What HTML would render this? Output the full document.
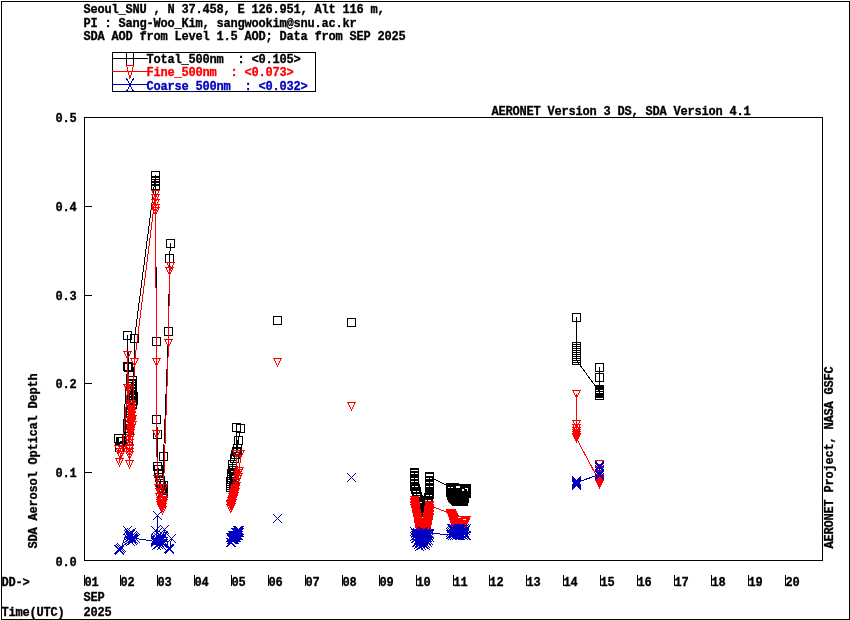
<!DOCTYPE html><html><head><meta charset="utf-8"><title>AERONET SDA</title><style>
html,body{margin:0;padding:0;background:#fff;}
svg{display:block;will-change:transform;}
text{font-family:"Liberation Mono",monospace;font-weight:bold;font-size:12px;letter-spacing:-0.2012px;}
.c{shape-rendering:crispEdges;fill:none;stroke-width:1;stroke-linecap:square;stroke-linejoin:bevel;}
</style></head><body>
<svg width="850" height="620" viewBox="0 0 850 620">
<rect x="0" y="0" width="850" height="620" fill="#fff"/>
<defs>
<path id="sq" d="M-4 -4H4V4H-4Z"/>
<path id="tr" d="M-4 -4h9v1h-9zM-3 -3h1v2h-1zM3 -3h1v2h-1zM-2 -1h1v2h-1zM2 -1h1v2h-1zM-1 1h1v2h-1zM1 1h1v2h-1zM0 3h1v2h-1z"/>
<path id="xx" d="M-4 -4L4 4M-4 4L4 -4"/>
</defs>
<g class="c" stroke="#000">
<rect x="1.5" y="1.5" width="848" height="618"/>
<rect x="84.5" y="117.5" width="738" height="443"/>
<path d="M85 206.5H91"/>
<path d="M85 295.5H91"/>
<path d="M85 383.5H91"/>
<path d="M85 472.5H91"/>
<path d="M84.5 575.5V585"/>
<path d="M120.5 575.5V585"/>
<path d="M157.5 575.5V585"/>
<path d="M194.5 575.5V585"/>
<path d="M231.5 575.5V585"/>
<path d="M268.5 575.5V585"/>
<path d="M305.5 575.5V585"/>
<path d="M342.5 575.5V585"/>
<path d="M379.5 575.5V585"/>
<path d="M416.5 575.5V585"/>
<path d="M453.5 575.5V585"/>
<path d="M489.5 575.5V585"/>
<path d="M526.5 575.5V585"/>
<path d="M563.5 575.5V585"/>
<path d="M600.5 575.5V585"/>
<path d="M637.5 575.5V585"/>
<path d="M674.5 575.5V585"/>
<path d="M711.5 575.5V585"/>
<path d="M748.5 575.5V585"/>
<path d="M785.5 575.5V585"/>
<rect x="112.5" y="52.5" width="203" height="39"/>
</g>
<g class="c" stroke="#000000">
<path d="M118.5 438.5L119.5 447.5L120.5 441.5L121.5 441.5L122.5 441.5L127.5 366.5L127.5 335.5L128.5 367.5L128.5 425.5L128.5 440.5L128.5 430.5L129.5 432.5L129.5 428.5L129.5 424.5L129.5 420.5L129.5 416.5L130.5 413.5L130.5 410.5L130.5 407.5L130.5 404.5L130.5 401.5L131.5 398.5L131.5 395.5L131.5 392.5L131.5 389.5L131.5 386.5L131.5 383.5L132.5 380.5L132.5 384.5L132.5 388.5L132.5 392.5L132.5 396.5L132.5 400.5L132.5 404.5L133.5 400.5L133.5 396.5L134.5 338.5L155.5 175.5L155.5 180.5L155.5 181.5L155.5 185.5L155.5 186.5L156.5 341.5L156.5 419.5L157.5 434.5L157.5 466.5L158.5 469.5L158.5 473.5L159.5 477.5L160.5 480.5L160.5 483.5L161.5 485.5L161.5 488.5L162.5 490.5L162.5 492.5L163.5 493.5L163.5 489.5L163.5 485.5L163.5 456.5L168.5 331.5L169.5 258.5L170.5 243.5"/>
<path d="M230.5 487.5L230.5 485.5L230.5 483.5L230.5 481.5L231.5 479.5L231.5 477.5L231.5 473.5L233.5 485.5L234.5 482.5L234.5 478.5L234.5 474.5L233.5 474.5L233.5 470.5L232.5 468.5L232.5 464.5L234.5 458.5L235.5 454.5L236.5 451.5L236.5 427.5L237.5 452.5L237.5 448.5L238.5 440.5L240.5 428.5"/>
<path d="M414.5 472.5L414.5 473.5L414.5 475.5L414.5 476.5L414.5 478.5L414.5 479.5L414.5 481.5L414.5 483.5L414.5 484.5L414.5 486.5L415.5 488.5L415.5 489.5L416.5 491.5L416.5 493.5L416.5 494.5L417.5 496.5L418.5 499.5L418.5 501.5L419.5 503.5L419.5 505.5L420.5 507.5L420.5 508.5L421.5 510.5L421.5 512.5L422.5 514.5L422.5 516.5L423.5 516.5L424.5 514.5L424.5 512.5L424.5 510.5L425.5 509.5L426.5 507.5L426.5 505.5L427.5 503.5L427.5 500.5L428.5 498.5L428.5 497.5L429.5 494.5L429.5 493.5L429.5 492.5L429.5 489.5L429.5 488.5L429.5 487.5L429.5 484.5L429.5 483.5L429.5 481.5L429.5 480.5L429.5 477.5L429.5 476.5L450.5 487.5L450.5 488.5L450.5 488.5L451.5 487.5L452.5 491.5L452.5 489.5L452.5 487.5L452.5 494.5L452.5 490.5L453.5 487.5L454.5 496.5L454.5 492.5L454.5 487.5L454.5 499.5L454.5 493.5L455.5 488.5L456.5 501.5L456.5 494.5L456.5 488.5L456.5 501.5L456.5 494.5L457.5 488.5L458.5 501.5L458.5 494.5L458.5 488.5L458.5 501.5L458.5 494.5L459.5 488.5L460.5 501.5L460.5 494.5L460.5 488.5L460.5 501.5L460.5 494.5L461.5 488.5L462.5 501.5L462.5 494.5L462.5 488.5L462.5 500.5L462.5 494.5L463.5 488.5L464.5 498.5L464.5 493.5L464.5 488.5L464.5 495.5L464.5 492.5L465.5 488.5L466.5 493.5L466.5 491.5L466.5 488.5"/>
<path d="M576.5 317.5L576.5 346.5L576.5 348.5L576.5 350.5L576.5 352.5L576.5 354.5L576.5 356.5L576.5 358.5L576.5 360.5L599.5 391.5L599.5 393.5L599.5 395.5L599.5 392.5L599.5 390.5L599.5 389.5L599.5 377.5L599.5 367.5"/>
<use href="#sq" x="118.5" y="438.5"/>
<use href="#sq" x="119.5" y="447.5"/>
<use href="#sq" x="120.5" y="441.5"/>
<use href="#sq" x="121.5" y="441.5"/>
<use href="#sq" x="122.5" y="441.5"/>
<use href="#sq" x="127.5" y="366.5"/>
<use href="#sq" x="127.5" y="335.5"/>
<use href="#sq" x="128.5" y="367.5"/>
<use href="#sq" x="128.5" y="425.5"/>
<use href="#sq" x="128.5" y="440.5"/>
<use href="#sq" x="128.5" y="430.5"/>
<use href="#sq" x="129.5" y="432.5"/>
<use href="#sq" x="129.5" y="428.5"/>
<use href="#sq" x="129.5" y="424.5"/>
<use href="#sq" x="129.5" y="420.5"/>
<use href="#sq" x="129.5" y="416.5"/>
<use href="#sq" x="130.5" y="413.5"/>
<use href="#sq" x="130.5" y="410.5"/>
<use href="#sq" x="130.5" y="407.5"/>
<use href="#sq" x="130.5" y="404.5"/>
<use href="#sq" x="130.5" y="401.5"/>
<use href="#sq" x="131.5" y="398.5"/>
<use href="#sq" x="131.5" y="395.5"/>
<use href="#sq" x="131.5" y="392.5"/>
<use href="#sq" x="131.5" y="389.5"/>
<use href="#sq" x="131.5" y="386.5"/>
<use href="#sq" x="131.5" y="383.5"/>
<use href="#sq" x="132.5" y="380.5"/>
<use href="#sq" x="132.5" y="384.5"/>
<use href="#sq" x="132.5" y="388.5"/>
<use href="#sq" x="132.5" y="392.5"/>
<use href="#sq" x="132.5" y="396.5"/>
<use href="#sq" x="132.5" y="400.5"/>
<use href="#sq" x="132.5" y="404.5"/>
<use href="#sq" x="133.5" y="400.5"/>
<use href="#sq" x="133.5" y="396.5"/>
<use href="#sq" x="134.5" y="338.5"/>
<use href="#sq" x="155.5" y="175.5"/>
<use href="#sq" x="155.5" y="180.5"/>
<use href="#sq" x="155.5" y="181.5"/>
<use href="#sq" x="155.5" y="185.5"/>
<use href="#sq" x="155.5" y="186.5"/>
<use href="#sq" x="156.5" y="341.5"/>
<use href="#sq" x="156.5" y="419.5"/>
<use href="#sq" x="157.5" y="434.5"/>
<use href="#sq" x="157.5" y="466.5"/>
<use href="#sq" x="158.5" y="469.5"/>
<use href="#sq" x="158.5" y="473.5"/>
<use href="#sq" x="159.5" y="477.5"/>
<use href="#sq" x="160.5" y="480.5"/>
<use href="#sq" x="160.5" y="483.5"/>
<use href="#sq" x="161.5" y="485.5"/>
<use href="#sq" x="161.5" y="488.5"/>
<use href="#sq" x="162.5" y="490.5"/>
<use href="#sq" x="162.5" y="492.5"/>
<use href="#sq" x="163.5" y="493.5"/>
<use href="#sq" x="163.5" y="489.5"/>
<use href="#sq" x="163.5" y="485.5"/>
<use href="#sq" x="163.5" y="456.5"/>
<use href="#sq" x="168.5" y="331.5"/>
<use href="#sq" x="169.5" y="258.5"/>
<use href="#sq" x="170.5" y="243.5"/>
<use href="#sq" x="230.5" y="487.5"/>
<use href="#sq" x="230.5" y="485.5"/>
<use href="#sq" x="230.5" y="483.5"/>
<use href="#sq" x="230.5" y="481.5"/>
<use href="#sq" x="231.5" y="479.5"/>
<use href="#sq" x="231.5" y="477.5"/>
<use href="#sq" x="231.5" y="473.5"/>
<use href="#sq" x="233.5" y="485.5"/>
<use href="#sq" x="234.5" y="482.5"/>
<use href="#sq" x="234.5" y="478.5"/>
<use href="#sq" x="234.5" y="474.5"/>
<use href="#sq" x="233.5" y="474.5"/>
<use href="#sq" x="233.5" y="470.5"/>
<use href="#sq" x="232.5" y="468.5"/>
<use href="#sq" x="232.5" y="464.5"/>
<use href="#sq" x="234.5" y="458.5"/>
<use href="#sq" x="235.5" y="454.5"/>
<use href="#sq" x="236.5" y="451.5"/>
<use href="#sq" x="236.5" y="427.5"/>
<use href="#sq" x="237.5" y="452.5"/>
<use href="#sq" x="237.5" y="448.5"/>
<use href="#sq" x="238.5" y="440.5"/>
<use href="#sq" x="240.5" y="428.5"/>
<use href="#sq" x="277.5" y="320.5"/>
<use href="#sq" x="351.5" y="322.5"/>
<use href="#sq" x="414.5" y="472.5"/>
<use href="#sq" x="414.5" y="473.5"/>
<use href="#sq" x="414.5" y="475.5"/>
<use href="#sq" x="414.5" y="476.5"/>
<use href="#sq" x="414.5" y="478.5"/>
<use href="#sq" x="414.5" y="479.5"/>
<use href="#sq" x="414.5" y="481.5"/>
<use href="#sq" x="414.5" y="483.5"/>
<use href="#sq" x="414.5" y="484.5"/>
<use href="#sq" x="414.5" y="486.5"/>
<use href="#sq" x="415.5" y="488.5"/>
<use href="#sq" x="415.5" y="489.5"/>
<use href="#sq" x="416.5" y="491.5"/>
<use href="#sq" x="416.5" y="493.5"/>
<use href="#sq" x="416.5" y="494.5"/>
<use href="#sq" x="417.5" y="496.5"/>
<use href="#sq" x="418.5" y="499.5"/>
<use href="#sq" x="418.5" y="501.5"/>
<use href="#sq" x="419.5" y="503.5"/>
<use href="#sq" x="419.5" y="505.5"/>
<use href="#sq" x="420.5" y="507.5"/>
<use href="#sq" x="420.5" y="508.5"/>
<use href="#sq" x="421.5" y="510.5"/>
<use href="#sq" x="421.5" y="512.5"/>
<use href="#sq" x="422.5" y="514.5"/>
<use href="#sq" x="422.5" y="516.5"/>
<use href="#sq" x="423.5" y="516.5"/>
<use href="#sq" x="424.5" y="514.5"/>
<use href="#sq" x="424.5" y="512.5"/>
<use href="#sq" x="424.5" y="510.5"/>
<use href="#sq" x="425.5" y="509.5"/>
<use href="#sq" x="426.5" y="507.5"/>
<use href="#sq" x="426.5" y="505.5"/>
<use href="#sq" x="427.5" y="503.5"/>
<use href="#sq" x="427.5" y="500.5"/>
<use href="#sq" x="428.5" y="498.5"/>
<use href="#sq" x="428.5" y="497.5"/>
<use href="#sq" x="429.5" y="494.5"/>
<use href="#sq" x="429.5" y="493.5"/>
<use href="#sq" x="429.5" y="492.5"/>
<use href="#sq" x="429.5" y="489.5"/>
<use href="#sq" x="429.5" y="488.5"/>
<use href="#sq" x="429.5" y="487.5"/>
<use href="#sq" x="429.5" y="484.5"/>
<use href="#sq" x="429.5" y="483.5"/>
<use href="#sq" x="429.5" y="481.5"/>
<use href="#sq" x="429.5" y="480.5"/>
<use href="#sq" x="429.5" y="477.5"/>
<use href="#sq" x="429.5" y="476.5"/>
<use href="#sq" x="450.5" y="487.5"/>
<use href="#sq" x="450.5" y="488.5"/>
<use href="#sq" x="450.5" y="488.5"/>
<use href="#sq" x="451.5" y="487.5"/>
<use href="#sq" x="452.5" y="491.5"/>
<use href="#sq" x="452.5" y="489.5"/>
<use href="#sq" x="452.5" y="487.5"/>
<use href="#sq" x="452.5" y="494.5"/>
<use href="#sq" x="452.5" y="490.5"/>
<use href="#sq" x="453.5" y="487.5"/>
<use href="#sq" x="454.5" y="496.5"/>
<use href="#sq" x="454.5" y="492.5"/>
<use href="#sq" x="454.5" y="487.5"/>
<use href="#sq" x="454.5" y="499.5"/>
<use href="#sq" x="454.5" y="493.5"/>
<use href="#sq" x="455.5" y="488.5"/>
<use href="#sq" x="456.5" y="501.5"/>
<use href="#sq" x="456.5" y="494.5"/>
<use href="#sq" x="456.5" y="488.5"/>
<use href="#sq" x="456.5" y="501.5"/>
<use href="#sq" x="456.5" y="494.5"/>
<use href="#sq" x="457.5" y="488.5"/>
<use href="#sq" x="458.5" y="501.5"/>
<use href="#sq" x="458.5" y="494.5"/>
<use href="#sq" x="458.5" y="488.5"/>
<use href="#sq" x="458.5" y="501.5"/>
<use href="#sq" x="458.5" y="494.5"/>
<use href="#sq" x="459.5" y="488.5"/>
<use href="#sq" x="460.5" y="501.5"/>
<use href="#sq" x="460.5" y="494.5"/>
<use href="#sq" x="460.5" y="488.5"/>
<use href="#sq" x="460.5" y="501.5"/>
<use href="#sq" x="460.5" y="494.5"/>
<use href="#sq" x="461.5" y="488.5"/>
<use href="#sq" x="462.5" y="501.5"/>
<use href="#sq" x="462.5" y="494.5"/>
<use href="#sq" x="462.5" y="488.5"/>
<use href="#sq" x="462.5" y="500.5"/>
<use href="#sq" x="462.5" y="494.5"/>
<use href="#sq" x="463.5" y="488.5"/>
<use href="#sq" x="464.5" y="498.5"/>
<use href="#sq" x="464.5" y="493.5"/>
<use href="#sq" x="464.5" y="488.5"/>
<use href="#sq" x="464.5" y="495.5"/>
<use href="#sq" x="464.5" y="492.5"/>
<use href="#sq" x="465.5" y="488.5"/>
<use href="#sq" x="466.5" y="493.5"/>
<use href="#sq" x="466.5" y="491.5"/>
<use href="#sq" x="466.5" y="488.5"/>
<use href="#sq" x="576.5" y="317.5"/>
<use href="#sq" x="576.5" y="346.5"/>
<use href="#sq" x="576.5" y="348.5"/>
<use href="#sq" x="576.5" y="350.5"/>
<use href="#sq" x="576.5" y="352.5"/>
<use href="#sq" x="576.5" y="354.5"/>
<use href="#sq" x="576.5" y="356.5"/>
<use href="#sq" x="576.5" y="358.5"/>
<use href="#sq" x="576.5" y="360.5"/>
<use href="#sq" x="599.5" y="391.5"/>
<use href="#sq" x="599.5" y="393.5"/>
<use href="#sq" x="599.5" y="395.5"/>
<use href="#sq" x="599.5" y="392.5"/>
<use href="#sq" x="599.5" y="390.5"/>
<use href="#sq" x="599.5" y="389.5"/>
<use href="#sq" x="599.5" y="377.5"/>
<use href="#sq" x="599.5" y="367.5"/>
<path d="M446 483H456V484H471V497H468V506H455L450 504L448 501L446 495Z" fill="#000" stroke="none"/>
<path d="M448 487h2v1h-2zM451 487h2v1h-2zM456 486h4v2h-4zM462 489h2v2h-2zM465 488h3v1h-3zM467 489h1v2h-1z" fill="#fff" stroke="none"/>
</g>
<g class="c" stroke="#ff0000">
<path d="M118.5 449.5L119.5 462.5L120.5 455.5L121.5 452.5L122.5 450.5L127.5 388.5L127.5 355.5L128.5 390.5L129.5 448.5L129.5 464.5L129.5 455.5L129.5 455.5L129.5 452.5L129.5 449.5L129.5 443.5L129.5 440.5L130.5 438.5L130.5 433.5L130.5 431.5L130.5 429.5L130.5 424.5L131.5 422.5L131.5 420.5L131.5 415.5L131.5 413.5L131.5 411.5L131.5 406.5L131.5 404.5L131.5 409.5L131.5 411.5L131.5 416.5L131.5 421.5L131.5 423.5L131.5 428.5L132.5 425.5L132.5 419.5L134.5 362.5L155.5 194.5L155.5 198.5L155.5 203.5L155.5 208.5L155.5 211.5L156.5 362.5L156.5 434.5L157.5 479.5L158.5 488.5L159.5 497.5L160.5 501.5L160.5 503.5L160.5 505.5L161.5 504.5L161.5 506.5L161.5 508.5L162.5 510.5L162.5 507.5L162.5 504.5L163.5 503.5L163.5 500.5L162.5 501.5L163.5 497.5L159.5 492.5L163.5 488.5L168.5 343.5L169.5 271.5L170.5 266.5"/>
<path d="M230.5 504.5L230.5 508.5L230.5 505.5L231.5 503.5L231.5 507.5L231.5 504.5L231.5 501.5L232.5 499.5L232.5 503.5L232.5 500.5L232.5 497.5L232.5 501.5L233.5 499.5L233.5 496.5L233.5 493.5L233.5 497.5L233.5 494.5L234.5 492.5L234.5 496.5L234.5 493.5L234.5 490.5L235.5 488.5L235.5 492.5L235.5 489.5L236.5 486.5L236.5 482.5L236.5 454.5L237.5 479.5L237.5 475.5L238.5 473.5L238.5 477.5L239.5 471.5L240.5 454.5"/>
<path d="M414.5 500.5L414.5 502.5L414.5 503.5L414.5 505.5L414.5 506.5L414.5 508.5L415.5 510.5L415.5 511.5L416.5 513.5L416.5 514.5L416.5 516.5L417.5 517.5L417.5 519.5L417.5 520.5L418.5 522.5L418.5 523.5L418.5 525.5L418.5 526.5L419.5 528.5L419.5 529.5L419.5 531.5L420.5 532.5L420.5 534.5L420.5 535.5L421.5 537.5L421.5 538.5L422.5 540.5L423.5 540.5L424.5 537.5L424.5 535.5L425.5 534.5L425.5 532.5L425.5 531.5L426.5 529.5L426.5 528.5L427.5 526.5L427.5 525.5L427.5 523.5L428.5 522.5L428.5 520.5L429.5 518.5L429.5 517.5L429.5 515.5L429.5 514.5L429.5 512.5L429.5 511.5L429.5 509.5L429.5 508.5L429.5 506.5L429.5 505.5L450.5 513.5L451.5 513.5L451.5 514.5L451.5 515.5L452.5 516.5L453.5 517.5L453.5 518.5L454.5 519.5L455.5 520.5L456.5 521.5L457.5 522.5L458.5 523.5L459.5 523.5L460.5 523.5L461.5 523.5L462.5 523.5L463.5 522.5L464.5 521.5L465.5 520.5L466.5 520.5L465.5 520.5L464.5 520.5L463.5 520.5L462.5 520.5L461.5 520.5L460.5 520.5L459.5 520.5L460.5 521.5L462.5 521.5L464.5 520.5L466.5 520.5"/>
<path d="M576.5 394.5L576.5 424.5L576.5 428.5L576.5 431.5L576.5 433.5L576.5 435.5L576.5 437.5L576.5 438.5L576.5 438.5L599.5 481.5L599.5 483.5L599.5 484.5L599.5 482.5L599.5 480.5L599.5 478.5L599.5 470.5L599.5 464.5"/>
</g><g shape-rendering="crispEdges" stroke="none" fill="#ff0000">
<use href="#tr" x="118" y="449"/>
<use href="#tr" x="119" y="462"/>
<use href="#tr" x="120" y="455"/>
<use href="#tr" x="121" y="452"/>
<use href="#tr" x="122" y="450"/>
<use href="#tr" x="127" y="388"/>
<use href="#tr" x="127" y="355"/>
<use href="#tr" x="128" y="390"/>
<use href="#tr" x="129" y="448"/>
<use href="#tr" x="129" y="464"/>
<use href="#tr" x="129" y="455"/>
<use href="#tr" x="129" y="455"/>
<use href="#tr" x="129" y="452"/>
<use href="#tr" x="129" y="449"/>
<use href="#tr" x="129" y="443"/>
<use href="#tr" x="129" y="440"/>
<use href="#tr" x="130" y="438"/>
<use href="#tr" x="130" y="433"/>
<use href="#tr" x="130" y="431"/>
<use href="#tr" x="130" y="429"/>
<use href="#tr" x="130" y="424"/>
<use href="#tr" x="131" y="422"/>
<use href="#tr" x="131" y="420"/>
<use href="#tr" x="131" y="415"/>
<use href="#tr" x="131" y="413"/>
<use href="#tr" x="131" y="411"/>
<use href="#tr" x="131" y="406"/>
<use href="#tr" x="131" y="404"/>
<use href="#tr" x="131" y="409"/>
<use href="#tr" x="131" y="411"/>
<use href="#tr" x="131" y="416"/>
<use href="#tr" x="131" y="421"/>
<use href="#tr" x="131" y="423"/>
<use href="#tr" x="131" y="428"/>
<use href="#tr" x="132" y="425"/>
<use href="#tr" x="132" y="419"/>
<use href="#tr" x="134" y="362"/>
<use href="#tr" x="155" y="194"/>
<use href="#tr" x="155" y="198"/>
<use href="#tr" x="155" y="203"/>
<use href="#tr" x="155" y="208"/>
<use href="#tr" x="155" y="211"/>
<use href="#tr" x="156" y="362"/>
<use href="#tr" x="156" y="434"/>
<use href="#tr" x="157" y="479"/>
<use href="#tr" x="158" y="488"/>
<use href="#tr" x="159" y="497"/>
<use href="#tr" x="160" y="501"/>
<use href="#tr" x="160" y="503"/>
<use href="#tr" x="160" y="505"/>
<use href="#tr" x="161" y="504"/>
<use href="#tr" x="161" y="506"/>
<use href="#tr" x="161" y="508"/>
<use href="#tr" x="162" y="510"/>
<use href="#tr" x="162" y="507"/>
<use href="#tr" x="162" y="504"/>
<use href="#tr" x="163" y="503"/>
<use href="#tr" x="163" y="500"/>
<use href="#tr" x="162" y="501"/>
<use href="#tr" x="163" y="497"/>
<use href="#tr" x="159" y="492"/>
<use href="#tr" x="163" y="488"/>
<use href="#tr" x="168" y="343"/>
<use href="#tr" x="169" y="271"/>
<use href="#tr" x="170" y="266"/>
<use href="#tr" x="230" y="504"/>
<use href="#tr" x="230" y="508"/>
<use href="#tr" x="230" y="505"/>
<use href="#tr" x="231" y="503"/>
<use href="#tr" x="231" y="507"/>
<use href="#tr" x="231" y="504"/>
<use href="#tr" x="231" y="501"/>
<use href="#tr" x="232" y="499"/>
<use href="#tr" x="232" y="503"/>
<use href="#tr" x="232" y="500"/>
<use href="#tr" x="232" y="497"/>
<use href="#tr" x="232" y="501"/>
<use href="#tr" x="233" y="499"/>
<use href="#tr" x="233" y="496"/>
<use href="#tr" x="233" y="493"/>
<use href="#tr" x="233" y="497"/>
<use href="#tr" x="233" y="494"/>
<use href="#tr" x="234" y="492"/>
<use href="#tr" x="234" y="496"/>
<use href="#tr" x="234" y="493"/>
<use href="#tr" x="234" y="490"/>
<use href="#tr" x="235" y="488"/>
<use href="#tr" x="235" y="492"/>
<use href="#tr" x="235" y="489"/>
<use href="#tr" x="236" y="486"/>
<use href="#tr" x="236" y="482"/>
<use href="#tr" x="236" y="454"/>
<use href="#tr" x="237" y="479"/>
<use href="#tr" x="237" y="475"/>
<use href="#tr" x="238" y="473"/>
<use href="#tr" x="238" y="477"/>
<use href="#tr" x="239" y="471"/>
<use href="#tr" x="240" y="454"/>
<use href="#tr" x="277" y="362"/>
<use href="#tr" x="351" y="406"/>
<use href="#tr" x="414" y="500"/>
<use href="#tr" x="414" y="502"/>
<use href="#tr" x="414" y="503"/>
<use href="#tr" x="414" y="505"/>
<use href="#tr" x="414" y="506"/>
<use href="#tr" x="414" y="508"/>
<use href="#tr" x="415" y="510"/>
<use href="#tr" x="415" y="511"/>
<use href="#tr" x="416" y="513"/>
<use href="#tr" x="416" y="514"/>
<use href="#tr" x="416" y="516"/>
<use href="#tr" x="417" y="517"/>
<use href="#tr" x="417" y="519"/>
<use href="#tr" x="417" y="520"/>
<use href="#tr" x="418" y="522"/>
<use href="#tr" x="418" y="523"/>
<use href="#tr" x="418" y="525"/>
<use href="#tr" x="418" y="526"/>
<use href="#tr" x="419" y="528"/>
<use href="#tr" x="419" y="529"/>
<use href="#tr" x="419" y="531"/>
<use href="#tr" x="420" y="532"/>
<use href="#tr" x="420" y="534"/>
<use href="#tr" x="420" y="535"/>
<use href="#tr" x="421" y="537"/>
<use href="#tr" x="421" y="538"/>
<use href="#tr" x="422" y="540"/>
<use href="#tr" x="423" y="540"/>
<use href="#tr" x="424" y="537"/>
<use href="#tr" x="424" y="535"/>
<use href="#tr" x="425" y="534"/>
<use href="#tr" x="425" y="532"/>
<use href="#tr" x="425" y="531"/>
<use href="#tr" x="426" y="529"/>
<use href="#tr" x="426" y="528"/>
<use href="#tr" x="427" y="526"/>
<use href="#tr" x="427" y="525"/>
<use href="#tr" x="427" y="523"/>
<use href="#tr" x="428" y="522"/>
<use href="#tr" x="428" y="520"/>
<use href="#tr" x="429" y="518"/>
<use href="#tr" x="429" y="517"/>
<use href="#tr" x="429" y="515"/>
<use href="#tr" x="429" y="514"/>
<use href="#tr" x="429" y="512"/>
<use href="#tr" x="429" y="511"/>
<use href="#tr" x="429" y="509"/>
<use href="#tr" x="429" y="508"/>
<use href="#tr" x="429" y="506"/>
<use href="#tr" x="429" y="505"/>
<use href="#tr" x="450" y="513"/>
<use href="#tr" x="451" y="513"/>
<use href="#tr" x="451" y="514"/>
<use href="#tr" x="451" y="515"/>
<use href="#tr" x="452" y="516"/>
<use href="#tr" x="453" y="517"/>
<use href="#tr" x="453" y="518"/>
<use href="#tr" x="454" y="519"/>
<use href="#tr" x="455" y="520"/>
<use href="#tr" x="456" y="521"/>
<use href="#tr" x="457" y="522"/>
<use href="#tr" x="458" y="523"/>
<use href="#tr" x="459" y="523"/>
<use href="#tr" x="460" y="523"/>
<use href="#tr" x="461" y="523"/>
<use href="#tr" x="462" y="523"/>
<use href="#tr" x="463" y="522"/>
<use href="#tr" x="464" y="521"/>
<use href="#tr" x="465" y="520"/>
<use href="#tr" x="466" y="520"/>
<use href="#tr" x="465" y="520"/>
<use href="#tr" x="464" y="520"/>
<use href="#tr" x="463" y="520"/>
<use href="#tr" x="462" y="520"/>
<use href="#tr" x="461" y="520"/>
<use href="#tr" x="460" y="520"/>
<use href="#tr" x="459" y="520"/>
<use href="#tr" x="460" y="521"/>
<use href="#tr" x="462" y="521"/>
<use href="#tr" x="464" y="520"/>
<use href="#tr" x="466" y="520"/>
<use href="#tr" x="576" y="394"/>
<use href="#tr" x="576" y="424"/>
<use href="#tr" x="576" y="428"/>
<use href="#tr" x="576" y="431"/>
<use href="#tr" x="576" y="433"/>
<use href="#tr" x="576" y="435"/>
<use href="#tr" x="576" y="437"/>
<use href="#tr" x="576" y="438"/>
<use href="#tr" x="576" y="438"/>
<use href="#tr" x="599" y="481"/>
<use href="#tr" x="599" y="483"/>
<use href="#tr" x="599" y="484"/>
<use href="#tr" x="599" y="482"/>
<use href="#tr" x="599" y="480"/>
<use href="#tr" x="599" y="478"/>
<use href="#tr" x="599" y="470"/>
<use href="#tr" x="599" y="464"/>
<path d="M411 497H419L422 521L425 503H433V518L427 546H419L411 504Z" fill="#f00" stroke="none"/>
<path d="M446 509H456L458 516H471L466 528H452Z" fill="#f00" stroke="none"/>
<path d="M458 517h3v1h-3zM463 519h3v1h-3z" fill="#fff" stroke="none"/>
</g>
<g class="c" stroke="#0000c0">
<path d="M118.5 549.5L119.5 549.5L119.5 550.5L120.5 548.5L121.5 547.5L127.5 530.5L128.5 534.5L128.5 538.5L129.5 535.5L129.5 540.5L129.5 533.5L130.5 537.5L130.5 541.5L130.5 534.5L131.5 538.5L131.5 532.5L131.5 536.5L132.5 540.5L132.5 535.5L132.5 538.5L133.5 536.5L133.5 539.5L134.5 537.5L135.5 538.5L155.5 541.5L155.5 539.5L155.5 542.5L155.5 540.5L156.5 538.5L156.5 545.5L157.5 515.5L157.5 532.5L155.5 530.5L157.5 536.5L158.5 540.5L158.5 544.5L159.5 538.5L159.5 542.5L160.5 536.5L160.5 541.5L161.5 545.5L161.5 539.5L162.5 543.5L162.5 537.5L163.5 541.5L163.5 535.5L164.5 529.5L168.5 548.5L169.5 548.5L169.5 549.5L171.5 538.5"/>
<path d="M230.5 537.5L230.5 542.5L231.5 539.5L231.5 537.5L231.5 542.5L232.5 539.5L232.5 537.5L232.5 535.5L233.5 539.5L233.5 537.5L233.5 535.5L234.5 539.5L234.5 537.5L234.5 535.5L235.5 532.5L235.5 537.5L235.5 535.5L236.5 532.5L236.5 537.5L236.5 535.5L237.5 532.5L237.5 530.5L237.5 535.5L238.5 532.5L238.5 530.5L238.5 535.5L239.5 532.5L239.5 530.5"/>
<path d="M414.5 531.5L414.5 536.5L415.5 533.5L415.5 538.5L415.5 535.5L415.5 532.5L416.5 538.5L416.5 535.5L416.5 542.5L416.5 538.5L417.5 533.5L417.5 542.5L417.5 537.5L417.5 532.5L418.5 541.5L418.5 535.5L418.5 544.5L418.5 539.5L419.5 533.5L419.5 542.5L419.5 536.5L419.5 546.5L420.5 540.5L420.5 534.5L420.5 543.5L420.5 538.5L421.5 532.5L421.5 541.5L421.5 536.5L421.5 545.5L422.5 539.5L422.5 533.5L422.5 543.5L422.5 537.5L423.5 531.5L423.5 540.5L423.5 535.5L423.5 544.5L424.5 538.5L424.5 533.5L424.5 542.5L424.5 536.5L425.5 545.5L425.5 540.5L425.5 534.5L425.5 543.5L426.5 537.5L426.5 532.5L426.5 540.5L426.5 535.5L427.5 542.5L427.5 537.5L427.5 533.5L427.5 539.5L428.5 535.5L428.5 540.5L428.5 536.5L428.5 533.5L429.5 537.5L429.5 534.5L429.5 533.5L450.5 534.5L450.5 532.5L450.5 534.5L451.5 528.5L451.5 534.5L451.5 531.5L452.5 530.5L452.5 535.5L452.5 528.5L453.5 533.5L453.5 533.5L453.5 528.5L454.5 535.5L454.5 530.5L454.5 531.5L455.5 534.5L455.5 528.5L455.5 534.5L456.5 532.5L456.5 529.5L456.5 535.5L457.5 529.5L457.5 532.5L457.5 534.5L458.5 528.5L458.5 534.5L458.5 531.5L458.5 530.5L459.5 535.5L459.5 528.5L459.5 533.5L460.5 532.5L460.5 529.5L460.5 535.5L461.5 529.5L461.5 531.5L461.5 534.5L462.5 528.5L462.5 534.5L462.5 531.5L463.5 529.5L463.5 535.5L463.5 529.5L464.5 532.5L464.5 533.5L464.5 528.5L465.5 535.5L465.5 530.5L465.5 530.5L466.5 535.5L466.5 528.5"/>
<path d="M576.5 483.5L576.5 482.5L576.5 484.5L576.5 481.5L576.5 485.5L576.5 480.5L576.5 482.5L599.5 474.5L599.5 475.5L599.5 473.5L599.5 471.5L599.5 469.5L599.5 467.5L599.5 466.5L599.5 465.5"/>
<use href="#xx" x="118.5" y="549.5"/>
<use href="#xx" x="119.5" y="549.5"/>
<use href="#xx" x="119.5" y="550.5"/>
<use href="#xx" x="120.5" y="548.5"/>
<use href="#xx" x="121.5" y="547.5"/>
<use href="#xx" x="127.5" y="530.5"/>
<use href="#xx" x="128.5" y="534.5"/>
<use href="#xx" x="128.5" y="538.5"/>
<use href="#xx" x="129.5" y="535.5"/>
<use href="#xx" x="129.5" y="540.5"/>
<use href="#xx" x="129.5" y="533.5"/>
<use href="#xx" x="130.5" y="537.5"/>
<use href="#xx" x="130.5" y="541.5"/>
<use href="#xx" x="130.5" y="534.5"/>
<use href="#xx" x="131.5" y="538.5"/>
<use href="#xx" x="131.5" y="532.5"/>
<use href="#xx" x="131.5" y="536.5"/>
<use href="#xx" x="132.5" y="540.5"/>
<use href="#xx" x="132.5" y="535.5"/>
<use href="#xx" x="132.5" y="538.5"/>
<use href="#xx" x="133.5" y="536.5"/>
<use href="#xx" x="133.5" y="539.5"/>
<use href="#xx" x="134.5" y="537.5"/>
<use href="#xx" x="135.5" y="538.5"/>
<use href="#xx" x="155.5" y="541.5"/>
<use href="#xx" x="155.5" y="539.5"/>
<use href="#xx" x="155.5" y="542.5"/>
<use href="#xx" x="155.5" y="540.5"/>
<use href="#xx" x="156.5" y="538.5"/>
<use href="#xx" x="156.5" y="545.5"/>
<use href="#xx" x="157.5" y="515.5"/>
<use href="#xx" x="157.5" y="532.5"/>
<use href="#xx" x="155.5" y="530.5"/>
<use href="#xx" x="157.5" y="536.5"/>
<use href="#xx" x="158.5" y="540.5"/>
<use href="#xx" x="158.5" y="544.5"/>
<use href="#xx" x="159.5" y="538.5"/>
<use href="#xx" x="159.5" y="542.5"/>
<use href="#xx" x="160.5" y="536.5"/>
<use href="#xx" x="160.5" y="541.5"/>
<use href="#xx" x="161.5" y="545.5"/>
<use href="#xx" x="161.5" y="539.5"/>
<use href="#xx" x="162.5" y="543.5"/>
<use href="#xx" x="162.5" y="537.5"/>
<use href="#xx" x="163.5" y="541.5"/>
<use href="#xx" x="163.5" y="535.5"/>
<use href="#xx" x="164.5" y="529.5"/>
<use href="#xx" x="168.5" y="548.5"/>
<use href="#xx" x="169.5" y="548.5"/>
<use href="#xx" x="169.5" y="549.5"/>
<use href="#xx" x="171.5" y="538.5"/>
<use href="#xx" x="230.5" y="537.5"/>
<use href="#xx" x="230.5" y="542.5"/>
<use href="#xx" x="231.5" y="539.5"/>
<use href="#xx" x="231.5" y="537.5"/>
<use href="#xx" x="231.5" y="542.5"/>
<use href="#xx" x="232.5" y="539.5"/>
<use href="#xx" x="232.5" y="537.5"/>
<use href="#xx" x="232.5" y="535.5"/>
<use href="#xx" x="233.5" y="539.5"/>
<use href="#xx" x="233.5" y="537.5"/>
<use href="#xx" x="233.5" y="535.5"/>
<use href="#xx" x="234.5" y="539.5"/>
<use href="#xx" x="234.5" y="537.5"/>
<use href="#xx" x="234.5" y="535.5"/>
<use href="#xx" x="235.5" y="532.5"/>
<use href="#xx" x="235.5" y="537.5"/>
<use href="#xx" x="235.5" y="535.5"/>
<use href="#xx" x="236.5" y="532.5"/>
<use href="#xx" x="236.5" y="537.5"/>
<use href="#xx" x="236.5" y="535.5"/>
<use href="#xx" x="237.5" y="532.5"/>
<use href="#xx" x="237.5" y="530.5"/>
<use href="#xx" x="237.5" y="535.5"/>
<use href="#xx" x="238.5" y="532.5"/>
<use href="#xx" x="238.5" y="530.5"/>
<use href="#xx" x="238.5" y="535.5"/>
<use href="#xx" x="239.5" y="532.5"/>
<use href="#xx" x="239.5" y="530.5"/>
<use href="#xx" x="277.5" y="518.5"/>
<use href="#xx" x="351.5" y="477.5"/>
<use href="#xx" x="414.5" y="531.5"/>
<use href="#xx" x="414.5" y="536.5"/>
<use href="#xx" x="415.5" y="533.5"/>
<use href="#xx" x="415.5" y="538.5"/>
<use href="#xx" x="415.5" y="535.5"/>
<use href="#xx" x="415.5" y="532.5"/>
<use href="#xx" x="416.5" y="538.5"/>
<use href="#xx" x="416.5" y="535.5"/>
<use href="#xx" x="416.5" y="542.5"/>
<use href="#xx" x="416.5" y="538.5"/>
<use href="#xx" x="417.5" y="533.5"/>
<use href="#xx" x="417.5" y="542.5"/>
<use href="#xx" x="417.5" y="537.5"/>
<use href="#xx" x="417.5" y="532.5"/>
<use href="#xx" x="418.5" y="541.5"/>
<use href="#xx" x="418.5" y="535.5"/>
<use href="#xx" x="418.5" y="544.5"/>
<use href="#xx" x="418.5" y="539.5"/>
<use href="#xx" x="419.5" y="533.5"/>
<use href="#xx" x="419.5" y="542.5"/>
<use href="#xx" x="419.5" y="536.5"/>
<use href="#xx" x="419.5" y="546.5"/>
<use href="#xx" x="420.5" y="540.5"/>
<use href="#xx" x="420.5" y="534.5"/>
<use href="#xx" x="420.5" y="543.5"/>
<use href="#xx" x="420.5" y="538.5"/>
<use href="#xx" x="421.5" y="532.5"/>
<use href="#xx" x="421.5" y="541.5"/>
<use href="#xx" x="421.5" y="536.5"/>
<use href="#xx" x="421.5" y="545.5"/>
<use href="#xx" x="422.5" y="539.5"/>
<use href="#xx" x="422.5" y="533.5"/>
<use href="#xx" x="422.5" y="543.5"/>
<use href="#xx" x="422.5" y="537.5"/>
<use href="#xx" x="423.5" y="531.5"/>
<use href="#xx" x="423.5" y="540.5"/>
<use href="#xx" x="423.5" y="535.5"/>
<use href="#xx" x="423.5" y="544.5"/>
<use href="#xx" x="424.5" y="538.5"/>
<use href="#xx" x="424.5" y="533.5"/>
<use href="#xx" x="424.5" y="542.5"/>
<use href="#xx" x="424.5" y="536.5"/>
<use href="#xx" x="425.5" y="545.5"/>
<use href="#xx" x="425.5" y="540.5"/>
<use href="#xx" x="425.5" y="534.5"/>
<use href="#xx" x="425.5" y="543.5"/>
<use href="#xx" x="426.5" y="537.5"/>
<use href="#xx" x="426.5" y="532.5"/>
<use href="#xx" x="426.5" y="540.5"/>
<use href="#xx" x="426.5" y="535.5"/>
<use href="#xx" x="427.5" y="542.5"/>
<use href="#xx" x="427.5" y="537.5"/>
<use href="#xx" x="427.5" y="533.5"/>
<use href="#xx" x="427.5" y="539.5"/>
<use href="#xx" x="428.5" y="535.5"/>
<use href="#xx" x="428.5" y="540.5"/>
<use href="#xx" x="428.5" y="536.5"/>
<use href="#xx" x="428.5" y="533.5"/>
<use href="#xx" x="429.5" y="537.5"/>
<use href="#xx" x="429.5" y="534.5"/>
<use href="#xx" x="429.5" y="533.5"/>
<use href="#xx" x="450.5" y="534.5"/>
<use href="#xx" x="450.5" y="532.5"/>
<use href="#xx" x="450.5" y="534.5"/>
<use href="#xx" x="451.5" y="528.5"/>
<use href="#xx" x="451.5" y="534.5"/>
<use href="#xx" x="451.5" y="531.5"/>
<use href="#xx" x="452.5" y="530.5"/>
<use href="#xx" x="452.5" y="535.5"/>
<use href="#xx" x="452.5" y="528.5"/>
<use href="#xx" x="453.5" y="533.5"/>
<use href="#xx" x="453.5" y="533.5"/>
<use href="#xx" x="453.5" y="528.5"/>
<use href="#xx" x="454.5" y="535.5"/>
<use href="#xx" x="454.5" y="530.5"/>
<use href="#xx" x="454.5" y="531.5"/>
<use href="#xx" x="455.5" y="534.5"/>
<use href="#xx" x="455.5" y="528.5"/>
<use href="#xx" x="455.5" y="534.5"/>
<use href="#xx" x="456.5" y="532.5"/>
<use href="#xx" x="456.5" y="529.5"/>
<use href="#xx" x="456.5" y="535.5"/>
<use href="#xx" x="457.5" y="529.5"/>
<use href="#xx" x="457.5" y="532.5"/>
<use href="#xx" x="457.5" y="534.5"/>
<use href="#xx" x="458.5" y="528.5"/>
<use href="#xx" x="458.5" y="534.5"/>
<use href="#xx" x="458.5" y="531.5"/>
<use href="#xx" x="458.5" y="530.5"/>
<use href="#xx" x="459.5" y="535.5"/>
<use href="#xx" x="459.5" y="528.5"/>
<use href="#xx" x="459.5" y="533.5"/>
<use href="#xx" x="460.5" y="532.5"/>
<use href="#xx" x="460.5" y="529.5"/>
<use href="#xx" x="460.5" y="535.5"/>
<use href="#xx" x="461.5" y="529.5"/>
<use href="#xx" x="461.5" y="531.5"/>
<use href="#xx" x="461.5" y="534.5"/>
<use href="#xx" x="462.5" y="528.5"/>
<use href="#xx" x="462.5" y="534.5"/>
<use href="#xx" x="462.5" y="531.5"/>
<use href="#xx" x="463.5" y="529.5"/>
<use href="#xx" x="463.5" y="535.5"/>
<use href="#xx" x="463.5" y="529.5"/>
<use href="#xx" x="464.5" y="532.5"/>
<use href="#xx" x="464.5" y="533.5"/>
<use href="#xx" x="464.5" y="528.5"/>
<use href="#xx" x="465.5" y="535.5"/>
<use href="#xx" x="465.5" y="530.5"/>
<use href="#xx" x="465.5" y="530.5"/>
<use href="#xx" x="466.5" y="535.5"/>
<use href="#xx" x="466.5" y="528.5"/>
<use href="#xx" x="576.5" y="483.5"/>
<use href="#xx" x="576.5" y="482.5"/>
<use href="#xx" x="576.5" y="484.5"/>
<use href="#xx" x="576.5" y="481.5"/>
<use href="#xx" x="576.5" y="485.5"/>
<use href="#xx" x="576.5" y="480.5"/>
<use href="#xx" x="576.5" y="482.5"/>
<use href="#xx" x="599.5" y="474.5"/>
<use href="#xx" x="599.5" y="475.5"/>
<use href="#xx" x="599.5" y="473.5"/>
<use href="#xx" x="599.5" y="471.5"/>
<use href="#xx" x="599.5" y="469.5"/>
<use href="#xx" x="599.5" y="467.5"/>
<use href="#xx" x="599.5" y="466.5"/>
<use href="#xx" x="599.5" y="465.5"/>
</g>
<g class="c" stroke="#000"><path d="M112.5 58.5H147"/><path d="M126.5 52V65.5H133.5V52"/></g>
<g class="c" stroke="#ff0000"><path d="M112.5 71.5H147"/><path d="M126.5 65.5H133.5L130 78.5Z"/></g>
<g class="c" stroke="#0000c0"><path d="M112.5 84.5H147"/><path d="M126.5 78.5L133.5 91.5M133.5 78.5L126.5 91.5"/></g>
<text x="83.5" y="13" fill="#000" stroke="#000" stroke-width="0.3" xml:space="preserve">Seoul_SNU , N 37.458, E 126.951, Alt 116 m,</text>
<text x="83.5" y="27" fill="#000" stroke="#000" stroke-width="0.3" xml:space="preserve">PI : Sang-Woo_Kim, sangwookim@snu.ac.kr</text>
<text x="83.5" y="40" fill="#000" stroke="#000" stroke-width="0.3" xml:space="preserve">SDA AOD from Level 1.5 AOD; Data from SEP 2025</text>
<text x="146.5" y="63" fill="#000" stroke="#000" stroke-width="0.3" xml:space="preserve">Total_500nm  : &lt;0.105&gt;</text>
<text x="146.5" y="76" fill="#ff0000" stroke="#ff0000" stroke-width="0.3" xml:space="preserve">Fine_500nm  : &lt;0.073&gt;</text>
<text x="146.5" y="89.5" fill="#0000c0" stroke="#0000c0" stroke-width="0.3" xml:space="preserve">Coarse_500nm  : &lt;0.032&gt;</text>
<text x="491.5" y="115" fill="#000" stroke="#000" stroke-width="0.3" xml:space="preserve">AERONET Version 3 DS, SDA Version 4.1</text>
<text x="55.5" y="122" fill="#000" stroke="#000" stroke-width="0.3" xml:space="preserve">0.5</text>
<text x="55.5" y="211" fill="#000" stroke="#000" stroke-width="0.3" xml:space="preserve">0.4</text>
<text x="55.5" y="300" fill="#000" stroke="#000" stroke-width="0.3" xml:space="preserve">0.3</text>
<text x="55.5" y="388" fill="#000" stroke="#000" stroke-width="0.3" xml:space="preserve">0.2</text>
<text x="55.5" y="477" fill="#000" stroke="#000" stroke-width="0.3" xml:space="preserve">0.1</text>
<text x="55.5" y="566" fill="#000" stroke="#000" stroke-width="0.3" xml:space="preserve">0.0</text>
<text x="84.5" y="586" fill="#000" stroke="#000" stroke-width="0.3" xml:space="preserve">01</text>
<text x="120.5" y="586" fill="#000" stroke="#000" stroke-width="0.3" xml:space="preserve">02</text>
<text x="157.5" y="586" fill="#000" stroke="#000" stroke-width="0.3" xml:space="preserve">03</text>
<text x="194.5" y="586" fill="#000" stroke="#000" stroke-width="0.3" xml:space="preserve">04</text>
<text x="231.5" y="586" fill="#000" stroke="#000" stroke-width="0.3" xml:space="preserve">05</text>
<text x="268.5" y="586" fill="#000" stroke="#000" stroke-width="0.3" xml:space="preserve">06</text>
<text x="305.5" y="586" fill="#000" stroke="#000" stroke-width="0.3" xml:space="preserve">07</text>
<text x="342.5" y="586" fill="#000" stroke="#000" stroke-width="0.3" xml:space="preserve">08</text>
<text x="379.5" y="586" fill="#000" stroke="#000" stroke-width="0.3" xml:space="preserve">09</text>
<text x="416.5" y="586" fill="#000" stroke="#000" stroke-width="0.3" xml:space="preserve">10</text>
<text x="453.5" y="586" fill="#000" stroke="#000" stroke-width="0.3" xml:space="preserve">11</text>
<text x="489.5" y="586" fill="#000" stroke="#000" stroke-width="0.3" xml:space="preserve">12</text>
<text x="526.5" y="586" fill="#000" stroke="#000" stroke-width="0.3" xml:space="preserve">13</text>
<text x="563.5" y="586" fill="#000" stroke="#000" stroke-width="0.3" xml:space="preserve">14</text>
<text x="600.5" y="586" fill="#000" stroke="#000" stroke-width="0.3" xml:space="preserve">15</text>
<text x="637.5" y="586" fill="#000" stroke="#000" stroke-width="0.3" xml:space="preserve">16</text>
<text x="674.5" y="586" fill="#000" stroke="#000" stroke-width="0.3" xml:space="preserve">17</text>
<text x="711.5" y="586" fill="#000" stroke="#000" stroke-width="0.3" xml:space="preserve">18</text>
<text x="748.5" y="586" fill="#000" stroke="#000" stroke-width="0.3" xml:space="preserve">19</text>
<text x="785.5" y="586" fill="#000" stroke="#000" stroke-width="0.3" xml:space="preserve">20</text>
<text x="1.5" y="586" fill="#000" stroke="#000" stroke-width="0.3" xml:space="preserve">DD-&gt;</text>
<text x="83.5" y="601" fill="#000" stroke="#000" stroke-width="0.3" xml:space="preserve">SEP</text>
<text x="83.5" y="616" fill="#000" stroke="#000" stroke-width="0.3" xml:space="preserve">2025</text>
<text x="1.5" y="616" fill="#000" stroke="#000" stroke-width="0.3" xml:space="preserve">Time(UTC)</text>
<text x="37" y="548.5" fill="#000" stroke="#000" stroke-width="0.3" xml:space="preserve" transform="rotate(-90 37 548.5)">SDA Aerosol Optical Depth</text>
<text x="833" y="548.5" fill="#000" stroke="#000" stroke-width="0.3" xml:space="preserve" transform="rotate(-90 833 548.5)">AERONET Project, NASA GSFC</text>
</svg></body></html>
